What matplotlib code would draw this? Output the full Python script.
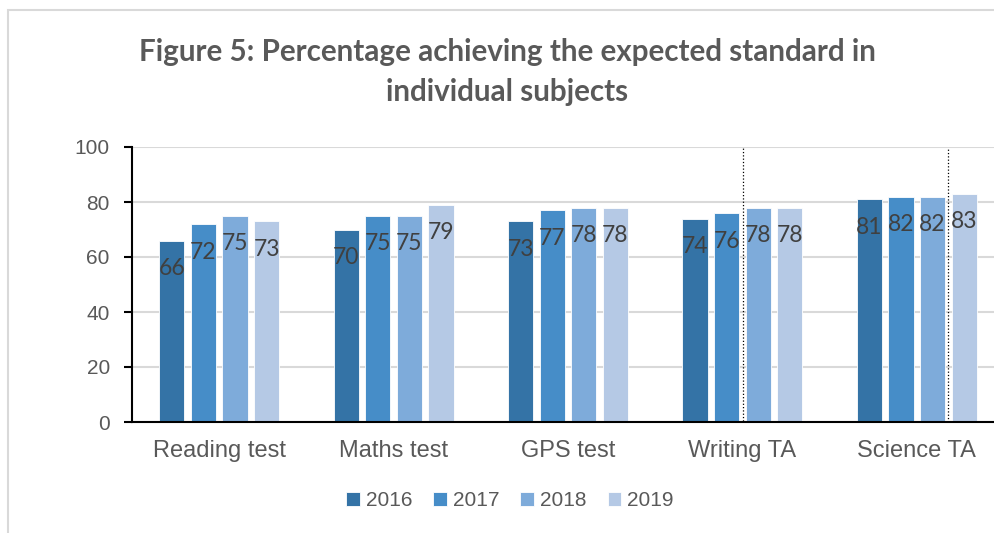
import numpy as np
import matplotlib.pyplot as plt
from matplotlib.patches import Rectangle

subjects = ['Reading test', 'Maths test', 'GPS test', 'Writing TA', 'Science TA']
years = ['2016', '2017', '2018', '2019']
pct_2016 = [66, 70, 73, 74, 81]
pct_2017 = [72, 75, 77, 76, 82]
pct_2018 = [75, 75, 78, 78, 82]
pct_2019 = [73, 79, 78, 78, 83]
colors = ['#3473A6', '#468DC8', '#7EABDA', '#B5C9E5']

grey = '#595959'

fig = plt.figure(figsize=(9.95, 5.33), dpi=100)
# outer chart border
fig.patches.append(Rectangle((8 / 995, -0.1), 1.2, 1.1 - 10 / 533, transform=fig.transFigure,
                             fill=False, edgecolor='#D9D9D9', linewidth=1.5))

ax = fig.add_axes([132 / 995, 111 / 533, 872 / 995, 275 / 533])

x = np.arange(len(subjects))
pitch = 0.181
width = 0.145
series = [pct_2016, pct_2017, pct_2018, pct_2019]
for i, vals in enumerate(series):
    pos = x + (i - 1.5) * pitch
    ax.bar(pos, vals, width, color=colors[i], edgecolor='white', linewidth=0.6,
           label=years[i], zorder=2)
    for p, v in zip(pos, vals):
        ax.text(p, v - 10.2, str(v), ha='center', va='center', fontsize=16.5,
                family='Lato', color='#404040', zorder=3)

# stray dotted lines from the original
ax.plot([3.003, 3.003], [0.5, 100.3], color='black', linestyle=':', linewidth=0.9, zorder=4)
ax.plot([4.179, 4.179], [0, 99.3], color='black', linestyle=':', linewidth=0.9, zorder=4)

ax.set_xlim(-0.5, 4.5)
ax.set_ylim(0, 100)
ax.set_yticks([0, 20, 40, 60, 80, 100])
ax.set_xticks(x)
ax.set_xticklabels(subjects)
ax.yaxis.grid(True, color='#D9D9D9', linewidth=1.5, zorder=0)
ax.set_axisbelow(True)
for s in ['top', 'right']:
    ax.spines[s].set_visible(False)
ax.spines['left'].set_linewidth(1.5)
ax.spines['bottom'].set_linewidth(1.5)
ax.tick_params(axis='y', length=6, width=1.5, pad=10, labelsize=15, labelcolor=grey)
ax.tick_params(axis='x', length=0, pad=13, labelsize=17, labelcolor=grey)
for lab in ax.get_xticklabels() + ax.get_yticklabels():
    lab.set_family('Liberation Sans')

fig.text(507 / 995, 1 - 72 / 533, 'Figure 5: Percentage achieving the expected standard in\nindividual subjects',
         ha='center', va='center', fontsize=21.3, fontweight='bold', family='Lato',
         color=grey, linespacing=1.5)

leg = fig.legend(loc='center', bbox_to_anchor=(510 / 995, 1 - 501 / 533), ncol=4, frameon=False,
                 prop={'family': 'Liberation Sans', 'size': 15}, handlelength=0.65, handleheight=0.65,
                 handletextpad=0.3, columnspacing=1.0)
for t in leg.get_texts():
    t.set_color(grey)

fig.savefig('out.png', dpi=100)
